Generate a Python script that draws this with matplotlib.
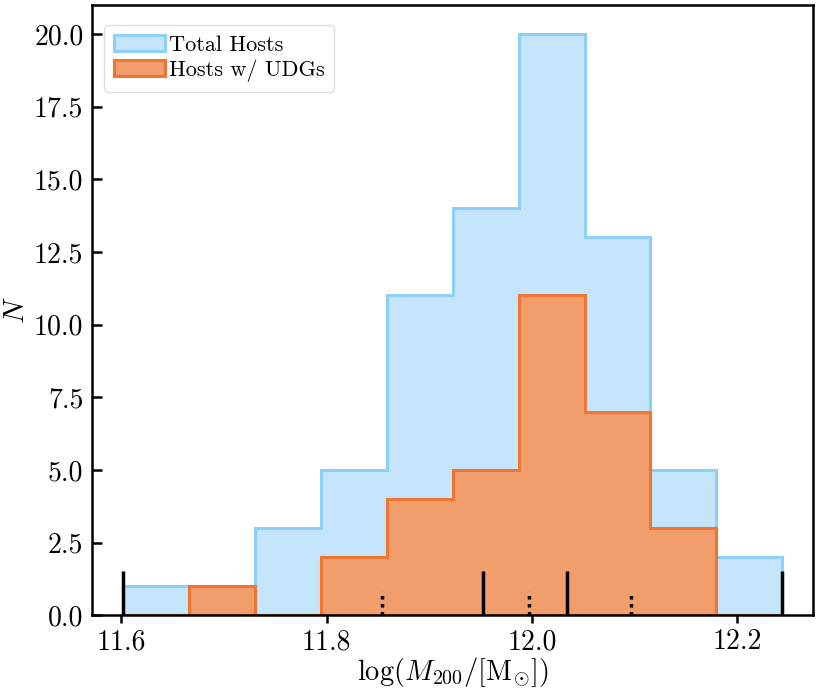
import numpy as np
import matplotlib
matplotlib.use('Agg')
import matplotlib.pyplot as plt

plt.rcParams['font.family'] = 'serif'
plt.rcParams['font.serif'] = ['cmr10', 'DejaVu Serif']
plt.rcParams['mathtext.fontset'] = 'cm'
plt.rcParams['axes.formatter.use_mathtext'] = True
plt.rcParams['axes.unicode_minus'] = False

# bin edges in log(M200) and counts per bin
bin_edges = np.linspace(11.602, 12.244, 11)
total_counts = [1, 0, 3, 5, 11, 14, 20, 13, 5, 2]
udg_counts = [0, 1, 0, 2, 4, 5, 11, 7, 3, 0]

# marker lines along the bottom
solid_x = [11.602, 11.952, 12.034, 12.244]
dotted_x = [11.854, 11.997, 12.097]
solid_h = 1.53
dotted_h = 0.84

centers = 0.5 * (bin_edges[1:] + bin_edges[:-1])

fig, ax = plt.subplots(figsize=(8.3, 6.92), dpi=100)
fig.subplots_adjust(left=0.1105, right=0.9795, top=0.993, bottom=0.111)

ax.hist(centers, bins=bin_edges, weights=total_counts, histtype='stepfilled',
        facecolor='#c4e5fc', edgecolor='#8dcff9', linewidth=2.2, label='Total Hosts')
ax.hist(centers, bins=bin_edges, weights=udg_counts, histtype='stepfilled',
        facecolor='#f19e6c', edgecolor='#ef7632', linewidth=2.2, label='Hosts w/ UDGs')

ax.vlines(solid_x, 0, solid_h, colors='k', linewidth=2.5)
ax.vlines(dotted_x, 0, dotted_h, colors='k', linewidth=2.5, linestyles=(0, (1, 1.3)))

ax.set_xlim(11.5711, 12.274)
ax.set_ylim(0, 21)
ax.set_xticks([11.6, 11.8, 12.0, 12.2])
ax.set_yticks(np.arange(0, 21, 2.5))
ax.set_yticklabels(['%.1f' % v for v in np.arange(0, 21, 2.5)])
ax.set_xticklabels(['11.6', '11.8', '12.0', '12.2'])
ax.tick_params(axis='y', direction='in', length=7, width=1.8, labelsize=20, pad=6)
ax.tick_params(axis='x', direction='out', length=6, width=1.8, labelsize=20, pad=4)
for s in ax.spines.values():
    s.set_linewidth(1.8)

ax.set_xlabel(r'$\log(M_{200}/[\mathrm{M}_{\odot}])$', fontsize=20.5, labelpad=0)
ax.set_ylabel(r'$N$', fontsize=21, labelpad=3)

leg = ax.legend(loc='upper left', fontsize=16, handlelength=2.3, handletextpad=0.15,
                borderpad=0.45, labelspacing=0.2, framealpha=1,
                bbox_to_anchor=(0.002, 0.985))
leg.get_frame().set_edgecolor('#dddddd')

fig.savefig('out.png', dpi=100)
